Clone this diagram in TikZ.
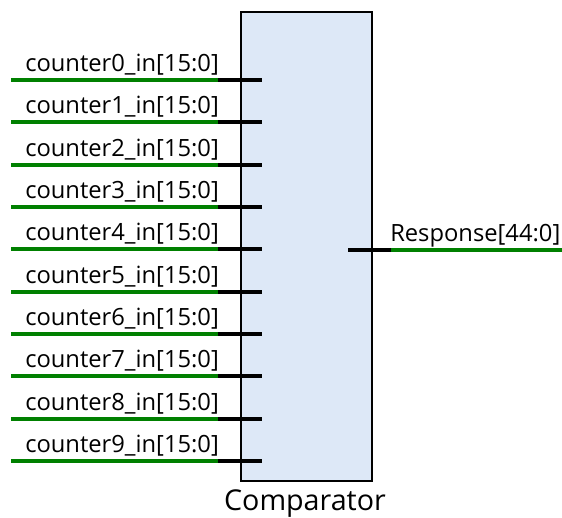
\documentclass[tikz,border=0pt]{standalone}
\usepackage{fontspec}
\setmainfont{Open Sans}
\definecolor{boxblue}{RGB}{221,232,247}
\definecolor{wiregreen}{RGB}{0,128,0}
\tikzset{
  bus/.style={line width=3pt, wiregreen},
  stub/.style={line width=3pt, black},
  pinlabel/.style={anchor=base west, inner sep=0pt, font=\fontsize{17.8}{21}\selectfont},
}
\begin{document}
\begin{tikzpicture}[x=0.75pt,y=-0.75pt]

  \useasboundingbox (0,0) rectangle (562,518);

  % block body
  \node[draw, line width=1pt, fill=boxblue, inner sep=0pt,
        minimum width=98.25pt, minimum height=351.75pt] (cmp) at (306.5,246.5) {};
  \node[anchor=base, inner sep=0pt, font=\fontsize{21.5}{25}\selectfont] (name) at (305,510) {Comparator};

  % input wires
  \coordinate (a0) at (11,80);    \coordinate (b0) at (218,80);    \coordinate (c0) at (262,80);
  \coordinate (a1) at (11,122.3); \coordinate (b1) at (218,122.3); \coordinate (c1) at (262,122.3);
  \coordinate (a2) at (11,164.7); \coordinate (b2) at (218,164.7); \coordinate (c2) at (262,164.7);
  \coordinate (a3) at (11,207);   \coordinate (b3) at (218,207);   \coordinate (c3) at (262,207);
  \coordinate (a4) at (11,249.3); \coordinate (b4) at (218,249.3); \coordinate (c4) at (262,249.3);
  \coordinate (a5) at (11,291.7); \coordinate (b5) at (218,291.7); \coordinate (c5) at (262,291.7);
  \coordinate (a6) at (11,334);   \coordinate (b6) at (218,334);   \coordinate (c6) at (262,334);
  \coordinate (a7) at (11,376.3); \coordinate (b7) at (218,376.3); \coordinate (c7) at (262,376.3);
  \coordinate (a8) at (11,418.7); \coordinate (b8) at (218,418.7); \coordinate (c8) at (262,418.7);
  \coordinate (a9) at (11,461);   \coordinate (b9) at (218,461);   \coordinate (c9) at (262,461);

  \draw[bus] (a0) -- (b0);  \draw[stub] (b0) -- (c0);
  \draw[bus] (a1) -- (b1);  \draw[stub] (b1) -- (c1);
  \draw[bus] (a2) -- (b2);  \draw[stub] (b2) -- (c2);
  \draw[bus] (a3) -- (b3);  \draw[stub] (b3) -- (c3);
  \draw[bus] (a4) -- (b4);  \draw[stub] (b4) -- (c4);
  \draw[bus] (a5) -- (b5);  \draw[stub] (b5) -- (c5);
  \draw[bus] (a6) -- (b6);  \draw[stub] (b6) -- (c6);
  \draw[bus] (a7) -- (b7);  \draw[stub] (b7) -- (c7);
  \draw[bus] (a8) -- (b8);  \draw[stub] (b8) -- (c8);
  \draw[bus] (a9) -- (b9);  \draw[stub] (b9) -- (c9);

  \node[pinlabel] (l0) at (25,71.5)  {counter0\_in[15:0]};
  \node[pinlabel] (l1) at (25,113.8) {counter1\_in[15:0]};
  \node[pinlabel] (l2) at (25,156.2) {counter2\_in[15:0]};
  \node[pinlabel] (l3) at (25,198.5) {counter3\_in[15:0]};
  \node[pinlabel] (l4) at (25,240.8) {counter4\_in[15:0]};
  \node[pinlabel] (l5) at (25,283.2) {counter5\_in[15:0]};
  \node[pinlabel] (l6) at (25,325.5) {counter6\_in[15:0]};
  \node[pinlabel] (l7) at (25,367.8) {counter7\_in[15:0]};
  \node[pinlabel] (l8) at (25,410.2) {counter8\_in[15:0]};
  \node[pinlabel] (l9) at (25,452.5) {counter9\_in[15:0]};

  % output wire
  \coordinate (q) at (348,250);
  \coordinate (k) at (391,250);
  \coordinate (out) at (562,250);
  \draw[stub] (q) -- (k);
  \draw[bus] (k) -- (out);
  \node[pinlabel] (lr) at (390,241.5) {Response[44:0]};

\end{tikzpicture}
\end{document}
